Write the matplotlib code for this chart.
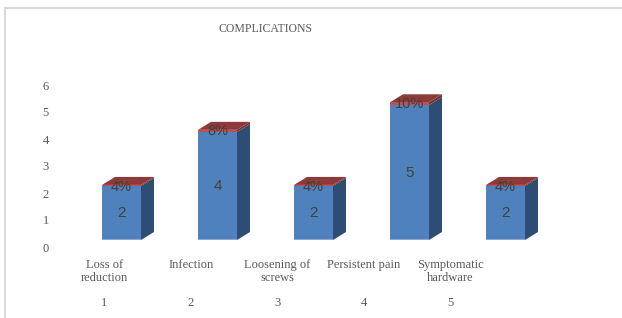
import matplotlib
matplotlib.use("Agg")
import matplotlib.pyplot as plt
from matplotlib.patches import Polygon, Rectangle
from matplotlib.lines import Line2D

categories = ["Loss of\nreduction", "Infection", "Loosening of\nscrews",
              "Persistent pain", "Symptomatic\nhardware"]
positions = [1, 2, 3, 4, 5]
counts = [2, 4, 2, 5, 2]
shares = [0.04, 0.08, 0.04, 0.10, 0.04]
share_labels = ["4%", "8%", "4%", "10%", "4%"]
y_ticks = [0, 1, 2, 3, 4, 5, 6]

W, H = 622, 318
fig = plt.figure(figsize=(W / 100, H / 100), dpi=100)
fig.patch.set_facecolor("white")

serif = "Liberation Serif"
sans = "Liberation Sans"
grey_txt = "#595959"
label_txt = "#404040"

front_blue = "#4F81BD"
side_blue = "#2D4D74"
front_red = "#C0504D"
side_red = "#7A2F2D"
top_red = "#8E3A38"
edge_blue = "#95B3D7"


def px_axes(left, top, width, height):
    a = fig.add_axes([left / W, 1 - (top + height) / H, width / W, height / H])
    a.set_facecolor("none")
    for s in a.spines.values():
        s.set_visible(False)
    return a


# chart border (only top and left visible in the crop)
fig.add_artist(Line2D([5 / W, 1], [1 - 8 / H, 1 - 8 / H], color="#D9D9D9", lw=1.5))
fig.add_artist(Line2D([5 / W, 5 / W], [1 - 8 / H, 0], color="#D9D9D9", lw=1.5))

# scale axes: back wall values and floor categories
sc = px_axes(61.25, 85, 432.5, 162)
sc.set_xlim(0.5, 5.5)
sc.set_ylim(0, 6)
sc.set_yticks(y_ticks)
sc.set_xticks(positions)
sc.set_xticklabels(categories, fontfamily=serif, fontsize=9, color=grey_txt,
                   linespacing=1.1)
sc.tick_params(axis="y", length=0, pad=9, labelsize=9, labelcolor=grey_txt)
sc.tick_params(axis="x", length=0, pad=8.5)
for t in sc.get_yticklabels():
    t.set_fontfamily(serif)
for p in positions:
    sc.annotate(str(p), xy=(p, 0), xycoords=("data", "axes fraction"),
                xytext=(0, -40), textcoords="offset points", ha="center",
                va="center", fontfamily=serif, fontsize=9, color=grey_txt)

# bars axes
ax = px_axes(25.5, 24, 576, 216)
ax.set_xlim(0, 6)
ax.set_ylim(0, 8)
ax.set_xticks([])
ax.set_yticks([])

hw = 0.203
dx = 13 / 96
dy = 8 / 27

for x, v, p, lab in zip(positions, counts, shares, share_labels):
    l, r = x - hw, x + hw
    ax.add_patch(Polygon([(r, 0), (r + dx, dy), (r + dx, v + dy), (r, v)],
                         closed=True, fc=side_blue, ec="none"))
    ax.add_patch(Polygon([(r, v), (r + dx, v + dy), (r + dx, v + p + dy), (r, v + p)],
                         closed=True, fc=side_red, ec="none"))
    ax.add_patch(Polygon([(l, v + p), (r, v + p), (r + dx, v + p + dy), (l + dx, v + p + dy)],
                         closed=True, fc=top_red, ec="none"))
    ax.add_patch(Rectangle((l, 0), 2 * hw, v, fc=front_blue, ec="none"))
    ax.add_patch(Rectangle((l, v), 2 * hw, p, fc=front_red, ec="none"))
    ax.plot([l, r], [0, 0], color=edge_blue, lw=1.2, solid_capstyle="butt")
    ax.text(x, v / 2, str(v), ha="center", va="center", fontfamily=sans,
            fontsize=11, color=label_txt)
    ax.text(x, v + p - 0.06, lab, ha="center", va="center", fontfamily=sans,
            fontsize=10.5, color=label_txt)

fig.text(265.5 / W, 1 - 28.5 / H, "COMPLICATIONS", ha="center", va="center",
         fontfamily=serif, fontsize=8.5, color=grey_txt)

fig.savefig("out.png", dpi=100, facecolor="white")
